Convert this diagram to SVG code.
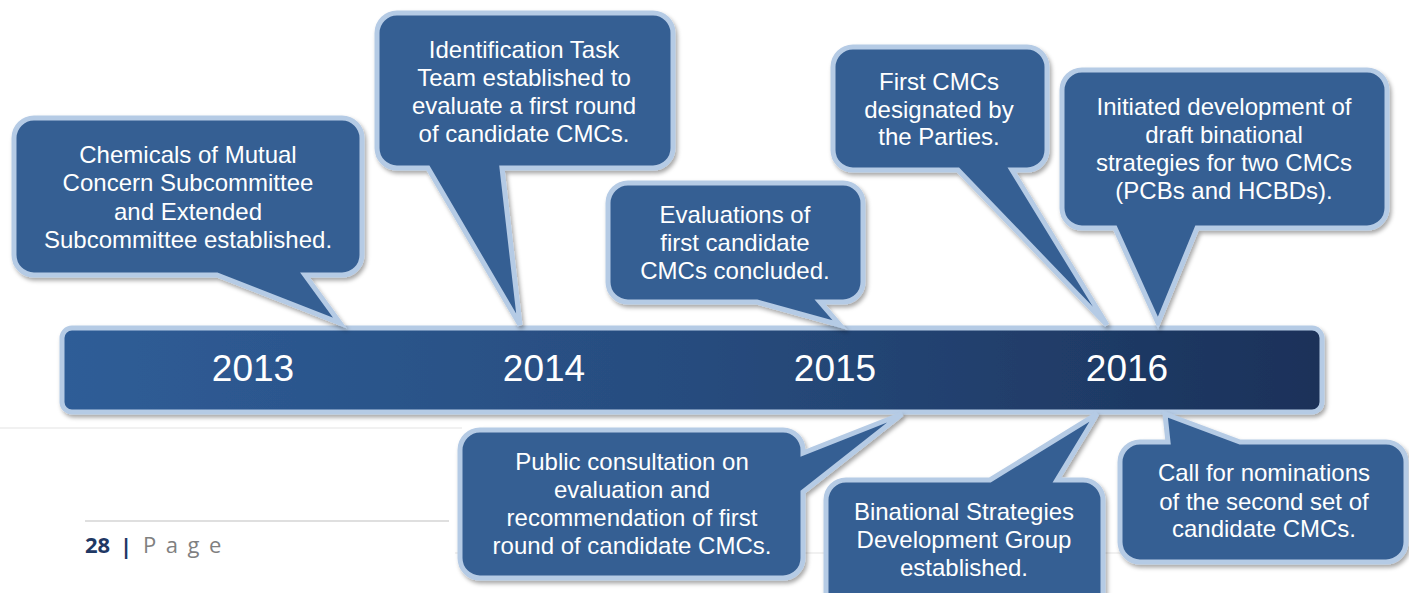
<svg xmlns="http://www.w3.org/2000/svg" width="1409" height="593" viewBox="0 0 1409 593">
  <defs>
    <linearGradient id="barGrad" x1="0" y1="0" x2="1" y2="0">
      <stop offset="0" stop-color="#2f5d97"/>
      <stop offset="0.5" stop-color="#274c7e"/>
      <stop offset="1" stop-color="#1b3159"/>
    </linearGradient>
    <filter id="shadow" x="-10%" y="-10%" width="125%" height="130%">
      <feDropShadow dx="2" dy="3" stdDeviation="2" flood-color="#000" flood-opacity="0.35"/>
    </filter>
    <style>
      .callout { fill: #365f93; stroke: #b5cbe5; stroke-width: 5; stroke-linejoin: miter; filter: url(#shadow); }
      .bar { fill: url(#barGrad); stroke: #b5cbe5; stroke-width: 5; filter: url(#shadow); }
      .txt { font-family: "Liberation Sans", Arial, sans-serif; font-size: 24px; fill: #ffffff; text-anchor: middle; }
      .year { font-family: "Liberation Sans", Arial, sans-serif; font-size: 37px; fill: #ffffff; text-anchor: middle; }
      .faint { stroke: #ececec; stroke-width: 1.5; }
      .foot { font-family: "Open Sans", "Liberation Sans", sans-serif; font-size: 22px; }
    </style>
  </defs>
  <rect width="1409" height="593" fill="#ffffff"/>

  <!-- faint page lines -->
  <line class="faint" x1="0" y1="428" x2="462" y2="428"/>
  <line class="faint" x1="455" y1="553" x2="1122" y2="553"/>

  <!-- footer -->
  <g id="footer">
    <line x1="85" y1="521" x2="449" y2="521" stroke="#d4d4d4" stroke-width="1.5"/>
    <text class="foot" x="85" y="553" font-weight="bold" fill="#1f3864">28</text>
    <text class="foot" x="120" y="554" font-weight="bold" fill="#1f3864">|</text>
    <text class="foot" x="143" y="553" fill="#808080" letter-spacing="9.5">Page</text>
  </g>

  <!-- timeline bar -->
  <g id="timeline">
    <rect class="bar" x="62" y="328" width="1260" height="84" rx="10" ry="10"/>
    <text class="year" x="253" y="381">2013</text>
    <text class="year" x="544" y="381">2014</text>
    <text class="year" x="835" y="381">2015</text>
    <text class="year" x="1127" y="381">2016</text>
  </g>

  <g id="connectors"></g>

  <!-- 2013 callout -->
  <g id="callout-2013-cmc-subcommittee">
    <path class="callout" d="M34,118 H342 A20,20 0 0 1 362,138 V255 A20,20 0 0 1 342,275 H305 L340,323 L217,275 H34 A20,20 0 0 1 14,255 V138 A20,20 0 0 1 34,118 Z"/>
    <text class="txt" x="188" y="163">Chemicals of Mutual</text>
    <text class="txt" x="188" y="191">Concern Subcommittee</text>
    <text class="txt" x="188" y="220">and Extended</text>
    <text class="txt" x="188" y="248">Subcommittee established.</text>
  </g>

  <!-- 2014 callout -->
  <g id="callout-2014-task-team">
    <path class="callout" d="M397,13 H653 A20,20 0 0 1 673,33 V148 A20,20 0 0 1 653,168 H502 L520,325 L428,168 H397 A20,20 0 0 1 377,148 V33 A20,20 0 0 1 397,13 Z"/>
    <text class="txt" x="524" y="58">Identification Task</text>
    <text class="txt" x="524" y="86">Team established to</text>
    <text class="txt" x="524" y="114">evaluate a first round</text>
    <text class="txt" x="524" y="142">of candidate CMCs.</text>
  </g>

  <!-- 2015 evaluations -->
  <g id="callout-2015-evaluations">
    <path class="callout" d="M628,183 H843 A20,20 0 0 1 863,203 V282 A20,20 0 0 1 843,302 H820 L840,325 L757,302 H628 A20,20 0 0 1 608,282 V203 A20,20 0 0 1 628,183 Z"/>
    <text class="txt" x="735" y="223">Evaluations of</text>
    <text class="txt" x="735" y="251">first candidate</text>
    <text class="txt" x="735" y="279">CMCs concluded.</text>
  </g>

  <!-- First CMCs designated -->
  <g id="callout-2016-first-cmcs">
    <path class="callout" d="M853,47 H1027 A20,20 0 0 1 1047,67 V150 A20,20 0 0 1 1027,170 H1012 L1107,325 L958,170 H853 A20,20 0 0 1 833,150 V67 A20,20 0 0 1 853,47 Z"/>
    <text class="txt" x="939" y="90">First CMCs</text>
    <text class="txt" x="939" y="118">designated by</text>
    <text class="txt" x="939" y="145">the Parties.</text>
  </g>

  <!-- Initiated development -->
  <g id="callout-2016-strategies">
    <path class="callout" d="M1082,70 H1367 A20,20 0 0 1 1387,90 V208 A20,20 0 0 1 1367,228 H1197 L1158,323 L1115,228 H1082 A20,20 0 0 1 1062,208 V90 A20,20 0 0 1 1082,70 Z"/>
    <text class="txt" x="1224" y="115">Initiated development of</text>
    <text class="txt" x="1224" y="143">draft binational</text>
    <text class="txt" x="1224" y="171">strategies for two CMCs</text>
    <text class="txt" x="1224" y="199">(PCBs and HCBDs).</text>
  </g>

  <!-- Public consultation -->
  <g id="callout-2015-public-consultation">
    <path class="callout" d="M480,430 H783 A20,20 0 0 1 803,450 V453 L902,414 L803,492 V558 A20,20 0 0 1 783,578 H480 A20,20 0 0 1 460,558 V450 A20,20 0 0 1 480,430 Z"/>
    <text class="txt" x="632" y="470">Public consultation on</text>
    <text class="txt" x="632" y="498">evaluation and</text>
    <text class="txt" x="632" y="526">recommendation of first</text>
    <text class="txt" x="632" y="554">round of candidate CMCs.</text>
  </g>

  <!-- Binational Strategies Development Group -->
  <g id="callout-2016-bsdg">
    <path class="callout" d="M846,480 H990 L1097,414 L1057,480 H1083 A20,20 0 0 1 1103,500 V606 H826 V500 A20,20 0 0 1 846,480 Z"/>
    <text class="txt" x="964" y="520">Binational Strategies</text>
    <text class="txt" x="964" y="548">Development Group</text>
    <text class="txt" x="964" y="576">established.</text>
  </g>

  <!-- Call for nominations -->
  <g id="callout-2016-nominations">
    <path class="callout" d="M1140,442 H1168 L1165,414 L1240,442 H1386 A20,20 0 0 1 1406,462 V542 A20,20 0 0 1 1386,562 H1140 A20,20 0 0 1 1120,542 V462 A20,20 0 0 1 1140,442 Z"/>
    <text class="txt" x="1264" y="481">Call for nominations</text>
    <text class="txt" x="1264" y="510">of the second set of</text>
    <text class="txt" x="1264" y="537">candidate CMCs.</text>
  </g>
</svg>
